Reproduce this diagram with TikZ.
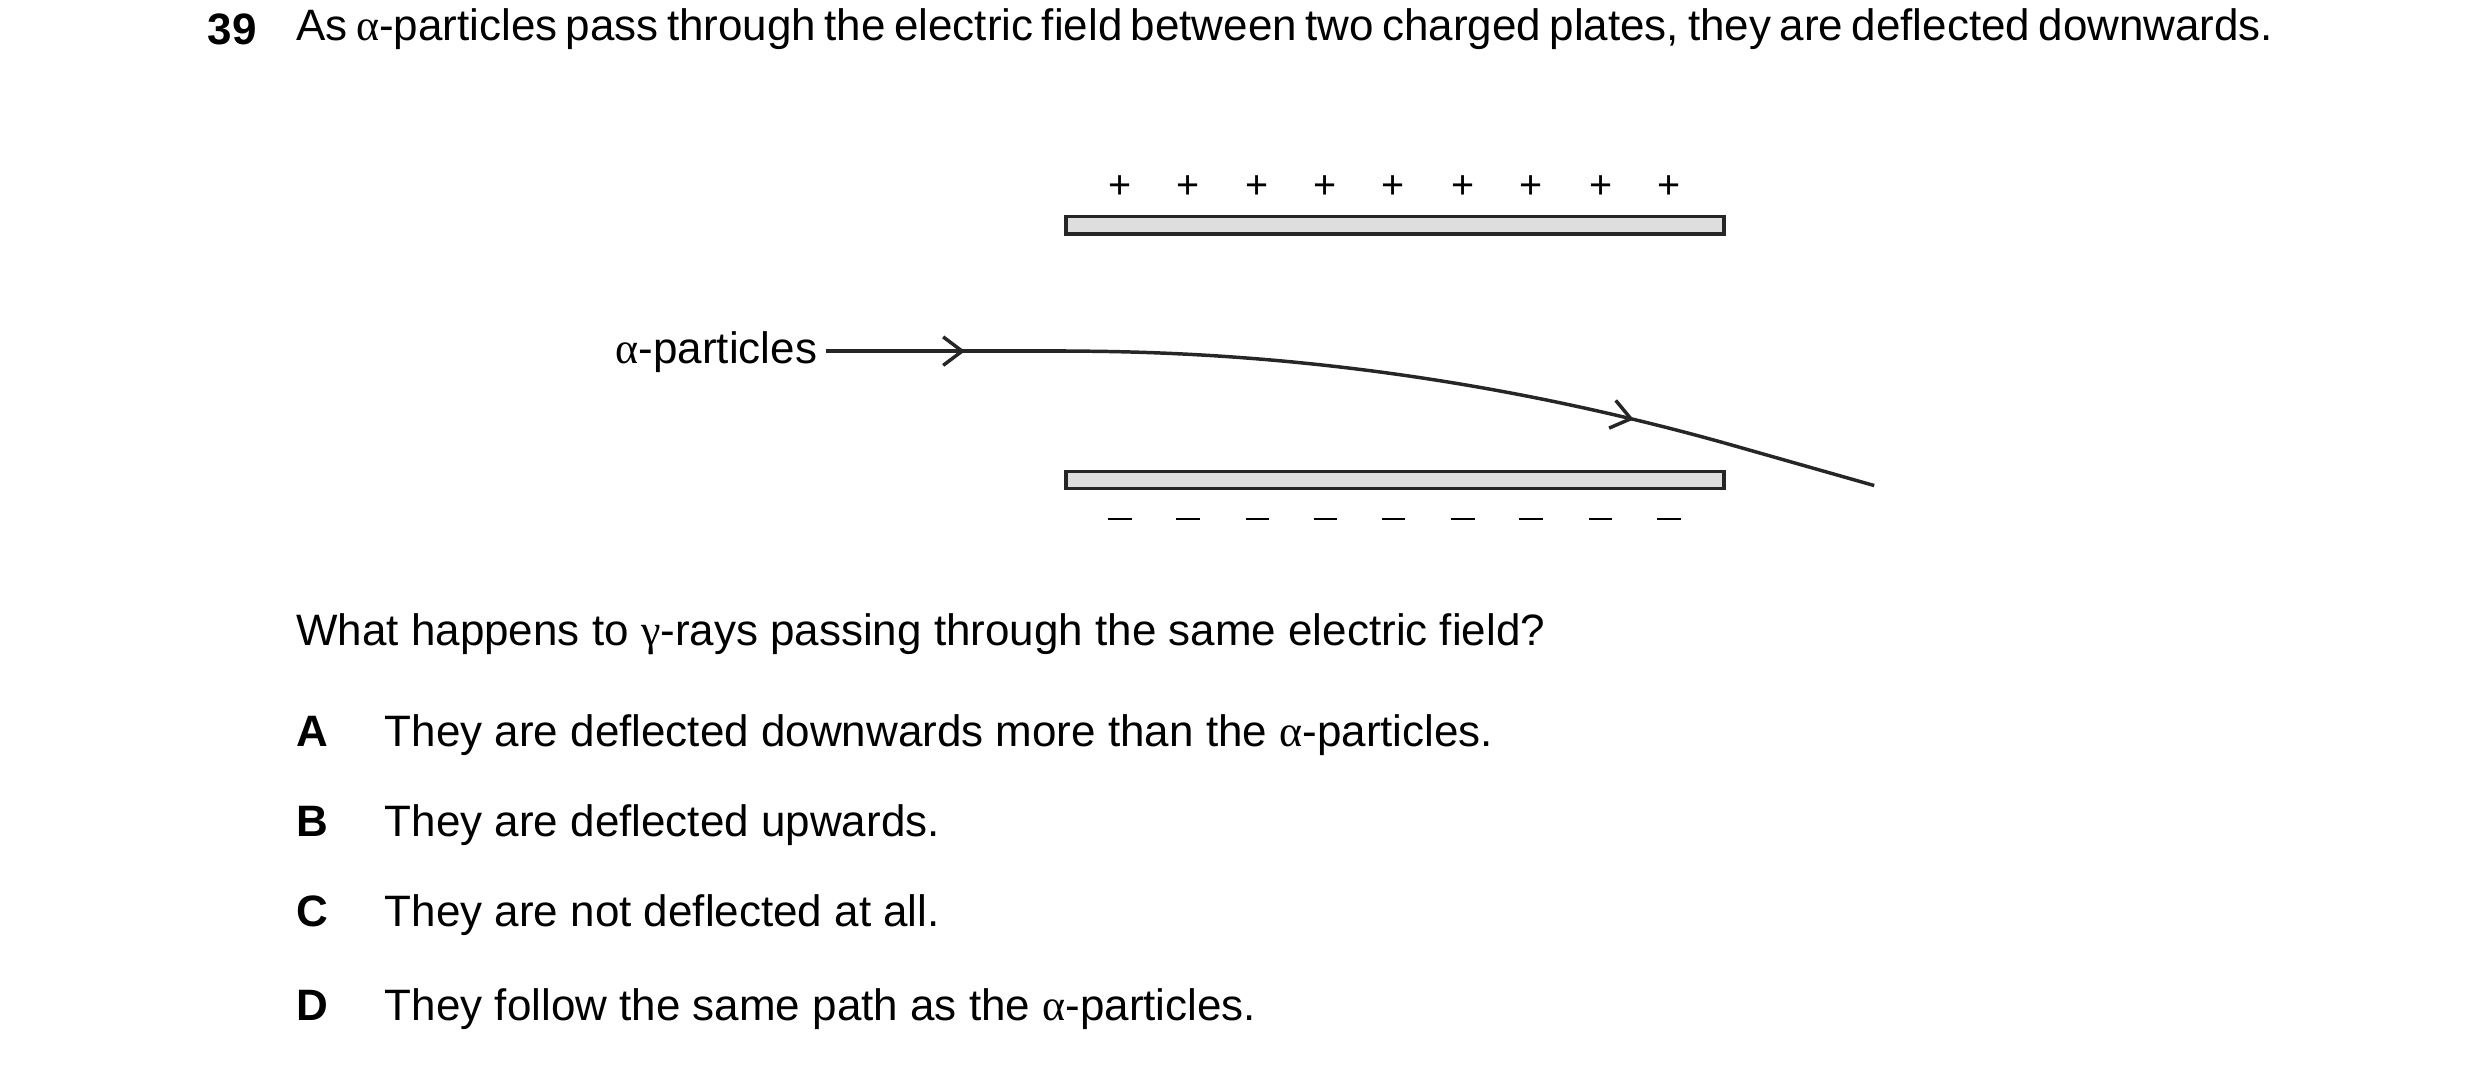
\documentclass[tikz,border=0pt]{standalone}
\usepackage{fontspec}
\setmainfont{Liberation Sans}
\newfontfamily\grk{Liberation Serif}
\usetikzlibrary{arrows.meta,decorations.markings}
\newcommand{\al}{{\grk\symbol{"03B1}}}
\newcommand{\gm}{{\grk\symbol{"03B3}}}
\begin{document}
\begin{tikzpicture}[x=0.5pt,y=-0.5pt,
  txt/.style={inner sep=0,anchor=base west,font=\fontsize{13.9pt}{16.8pt}\selectfont},
  sign/.style={inner sep=0,font=\fontsize{12.5pt}{15pt}\selectfont},
  plate/.style={draw=black!85,line width=1.1pt,fill=black!13},
  ray/.style={line width=1.1pt,draw=black!85},
  mk/.style={postaction={decorate},decoration={markings,mark=at position #1 with {\arrow{Straight Barb[length=6pt,width=9pt,line width=1.1pt]}}}}]
\useasboundingbox (0,0) rectangle (1568,678);
\node[txt,font=\fontsize{13.9pt}{16.8pt}\selectfont\bfseries] (num) at (131,28) {39};
\node[inner sep=0,anchor=north west,text width=625pt,align=justify,font=\fontsize{13.9pt}{16.8pt}\selectfont] (q) at (187,5)
 {As \al-particles pass through the electric field between two charged plates, they are deflected downwards.};
\foreach \x [count=\i] in {708,751,795,838,881,925,968,1012,1055}{
  \node[sign] (p\i) at (\x,118) {+};
  \node[sign] (m\i) at (\x,330) {\rule[0.3ex]{0.6em}{0.7pt}};
}
\node[plate,minimum width=208pt,minimum height=5.5pt,inner sep=0] (top) at (882,142.5) {};
\node[plate,minimum width=208pt,minimum height=5.5pt,inner sep=0] (bot) at (882,303.5) {};
\node[txt,anchor=base east] (lab) at (517,230) {\al-particles};
\coordinate (s) at (522,222);
\coordinate (e0) at (674,222);
\coordinate (e1) at (1090,280);
\coordinate (e2) at (1185,307);
\draw[ray,mk=0.58] (s) -- (e0);
\draw[ray,mk=0.86] (e0) .. controls (812.7,222) and (951.3,241.3) .. (e1);
\draw[ray] (e1) -- (e2);
\node[txt] (q2) at (187,408) {What happens to \gm-rays passing through the same electric field?};
\foreach \l/\y/\t [count=\i] in {A/472/They are deflected downwards more than the \al-particles.,B/529/They are deflected upwards.,C/586/They are not deflected at all.,D/645/They follow the same path as the \al-particles.}{
  \node[txt,font=\fontsize{13.9pt}{16.8pt}\selectfont\bfseries] (L\i) at (187,\y) {\l};
  \node[txt] (T\i) at (243,\y) {\t};
}
\end{tikzpicture}
\end{document}
